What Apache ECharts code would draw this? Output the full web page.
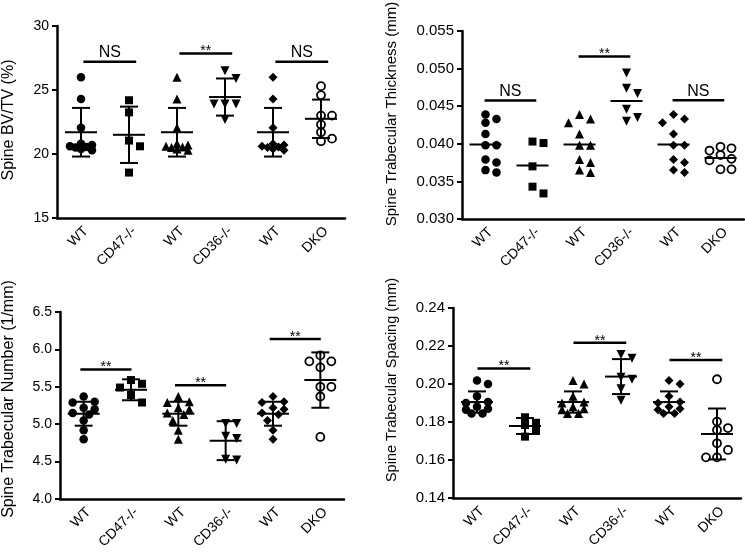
<!DOCTYPE html>
<html><head><meta charset="utf-8">
<script src="https://cdn.jsdelivr.net/npm/echarts@6/dist/echarts.min.js"></script>
<style>html,body{margin:0;padding:0;background:#fff}#c{width:745px;height:552px}</style>
</head><body><div id="c"></div>
<script>
// ---------- DATA ----------
const categories = ['WT', 'CD47-/-', 'WT', 'CD36-/-', 'WT', 'DKO'];

// Spine BV/TV (%)
const bvWT   = [26.0, 24.3, 22.05, 20.8, 20.7, 20.6, 20.55, 20.5, 20.4, 20.3];
const bvCD47 = [24.2, 23.25, 21.05, 20.6, 18.55];
const bvCD36 = [26.5, 25.9, 23.9, 23.9, 23.9, 22.7];
const bvDKO  = [25.3, 24.6, 23.0, 23.0, 22.3, 21.7, 21.2, 21.0];
const bvMean = [21.7, 21.5, 21.7, 24.45, 21.7, 22.75];
const bvSD   = [1.9, 2.2, 1.9, 1.45, 1.9, 1.5];
const bvTicks = ['15', '20', '25', '30'];
const bvSig  = [[0, 1, 27.2, 'NS'], [2, 3, 27.85, '**'], [4, 5, 27.2, 'NS']];

// Spine Trabecular Thickness (mm)
const thWT   = [0.0439, 0.0433, 0.0428, 0.0413, 0.0398, 0.0398, 0.0379, 0.0375, 0.0365, 0.0362];
const thCD47 = [0.0403, 0.0401, 0.0370, 0.0343, 0.0334];
const thCD36 = [0.0494, 0.0474, 0.0467, 0.0446, 0.0435, 0.0430];
const thDKO  = [0.0396, 0.0394, 0.0391, 0.0385, 0.0380, 0.0378, 0.0366, 0.0366];
const thMean = [0.0399, 0.0371, 0.0399, 0.0457, 0.0399, 0.0381];
const thTicks = ['0.030', '0.035', '0.040', '0.045', '0.050', '0.055'];
const thSig  = [[0, 1, 0.04575, 'NS'], [2, 3, 0.0516, '**'], [4, 5, 0.0458, 'NS']];

// Spine Trabecular Number (1/mm)
const tnWT   = [5.37, 5.30, 5.29, 5.22, 5.20, 5.15, 5.13, 5.05, 4.92, 4.80];
const tnCD47 = [5.59, 5.54, 5.49, 5.39, 5.29];
const tnCD36 = [5.01, 5.01, 4.84, 4.81, 4.53, 4.52];
const tnDKO  = [5.92, 5.84, 5.84, 5.76, 5.50, 5.50, 5.37, 4.83];
const tnMean = [5.14, 5.46, 5.14, 4.78, 5.14, 5.59];
const tnSD   = [0.16, 0.14, 0.16, 0.26, 0.16, 0.37];
const tnTicks = ['4.0', '4.5', '5.0', '5.5', '6.0', '6.5'];
const tnSig  = [[0, 1, 5.73, '**'], [2, 3, 5.52, '**'], [4, 5, 6.14, '**']];

// Spine Trabecular Spacing (mm)
const tsWT   = [0.2019, 0.2000, 0.1935, 0.1905, 0.1900, 0.1880, 0.1870, 0.1865, 0.1845, 0.1845];
const tsCD47 = [0.1825, 0.1796, 0.1784, 0.1753, 0.1723];
const tsCD36 = [0.2155, 0.2135, 0.2035, 0.2025, 0.1975, 0.1915];
const tsDKO  = [0.2025, 0.1802, 0.1768, 0.1758, 0.1688, 0.1653, 0.1614, 0.1614];
const tsMean = [0.1905, 0.1779, 0.1905, 0.2039, 0.1905, 0.1737];
const tsSD   = [0.0056, 0.0042, 0.0056, 0.0092, 0.0056, 0.0134];
const tsTicks = ['0.14', '0.16', '0.18', '0.20', '0.22', '0.24'];
const tsSig  = [[0, 1, 0.2081, '**'], [2, 3, 0.2217, '**'], [4, 5, 0.2126, '**']];

// ---------- LAYOUT / STYLE ----------
const FONT = '"Liberation Sans", Arial, sans-serif';
const panels = [
  { groups: [bvWT, bvCD47, bvWT, bvCD36, bvWT, bvDKO], means: bvMean, sds: bvSD, ticks: bvTicks, sig: bvSig,
    title: 'Spine BV/TV (%)', grid: { left: 57, top: 26, width: 288, height: 192 },
    sigL: 0.05, sigR: 0.15, nameX: 9, nameY: 120, nameSize: 16, tickSize: 14 },
  { groups: [thWT, thCD47, thWT, thCD36, thWT, thDKO], means: thMean, sds: null, ticks: thTicks, sig: thSig,
    title: 'Spine Trabecular Thickness (mm)', grid: { left: 462, top: 31, width: 282, height: 188 },
    sigL: -0.02, sigR: 0.08, nameX: 392, nameY: 114, nameSize: 15, tickSize: 15 },
  { groups: [tnWT, tnCD47, tnWT, tnCD36, tnWT, tnDKO], means: tnMean, sds: tnSD, ticks: tnTicks, sig: tnSig,
    title: 'Spine Trabecular Number (1/mm)', grid: { left: 60, top: 312, width: 284, height: 187 },
    sigL: -0.07, sigR: 0.01, nameX: 9, nameY: 399, nameSize: 16, tickSize: 14 },
  { groups: [tsWT, tsCD47, tsWT, tsCD36, tsWT, tsDKO], means: tsMean, sds: tsSD, ticks: tsTicks, sig: tsSig,
    title: 'Spine Trabecular Spacing (mm)', grid: { left: 453, top: 308, width: 288, height: 190 },
    sigL: 0.01, sigR: 0.11, nameX: 392, nameY: 380, nameSize: 14.5, tickSize: 15 }
];
const symbols = [
  { symbol: 'circle', size: 8.5, rotate: 0, fill: '#000' },
  { symbol: 'rect', size: 8, rotate: 0, fill: '#000' },
  { symbol: 'triangle', size: 9, rotate: 0, fill: '#000' },
  { symbol: 'triangle', size: 9, rotate: 180, fill: '#000' },
  { symbol: 'diamond', size: 9, rotate: 0, fill: '#000' },
  { symbol: 'circle', size: 8, rotate: 0, fill: 'rgba(0,0,0,0)', border: 1.8 }
];

// simple scatter-column layout: shift overlapping points sideways within a narrow column (pixel space)
function swarm(vals, p, catIdx, size) {
  const ymin = parseFloat(p.ticks[0]), ymax = parseFloat(p.ticks[p.ticks.length - 1]);
  const ppu = p.grid.height / (ymax - ymin);
  const band = p.grid.width / categories.length;
  const col = 11;
  const cands = [0, col, -col, col / 2, -col / 2];
  const placed = [];
  const order = vals.map((v, i) => i).sort((a, b) => vals[b] - vals[a]);
  const res = new Array(vals.length);
  for (const i of order) {
    const py = (vals[i] - ymin) * ppu;
    let best = 0, bestD = -1;
    for (const c of cands) {
      const d = placed.length ? Math.min(...placed.map(q => Math.hypot(q.x - c, q.y - py))) : Infinity;
      if (d >= size * 0.95) { best = c; bestD = d; break; }
      if (d > bestD) { bestD = d; best = c; }
    }
    placed.push({ x: best, y: py });
    res[i] = [catIdx + best / band, vals[i]];
  }
  return res;
}

const grids = [], xAxes = [], yAxes = [], series = [], graphics = [];
panels.forEach((p, gi) => {
  const ymin = parseFloat(p.ticks[0]), ymax = parseFloat(p.ticks[p.ticks.length - 1]);
  const intv = (ymax - ymin) / (p.ticks.length - 1);
  grids.push(Object.assign({ containLabel: false }, p.grid));
  xAxes.push({
    gridIndex: gi, type: 'category', data: categories, boundaryGap: true, position: 'bottom',
    axisLine: { onZero: false, lineStyle: { color: '#000', width: 2.5 } },
    axisTick: { alignWithLabel: true, length: 6, lineStyle: { color: '#000', width: 2 } },
    axisLabel: { interval: 0, rotate: 45, margin: 6, verticalAlign: 'top', fontSize: 14, color: '#000', fontFamily: FONT },
    splitLine: { show: false }
  });
  xAxes.push({ gridIndex: gi, type: 'value', min: -0.5, max: 5.5, show: false });
  yAxes.push({
    gridIndex: gi, type: 'value', min: ymin, max: ymax, interval: intv,
    axisLine: { show: true, onZero: false, lineStyle: { color: '#000', width: 2.5 } },
    axisTick: { show: true, length: 5, lineStyle: { color: '#000', width: 2 } },
    axisLabel: { margin: 8, fontSize: p.tickSize, color: '#000', fontFamily: FONT,
      formatter: v => { let best = p.ticks[0]; let d = Infinity; p.ticks.forEach(t => { const dd = Math.abs(parseFloat(t) - v); if (dd < d) { d = dd; best = t; } }); return best; } },
    splitLine: { show: false }
  });
  p.groups.forEach((vals, ci) => {
    const s = symbols[ci];
    series.push({
      type: 'scatter', xAxisIndex: 2 * gi + 1, yAxisIndex: gi, silent: true, z: 2,
      symbol: s.symbol, symbolSize: s.size, symbolRotate: s.rotate,
      itemStyle: { color: s.fill, borderColor: '#000', borderWidth: s.border || 0, opacity: 1 },
      data: swarm(vals, p, ci, s.size)
    });
  });
  series.push({
    type: 'custom', xAxisIndex: 2 * gi + 1, yAxisIndex: gi, silent: true, z: 5,
    data: p.means.map((m, i) => [i, m, p.sds ? p.sds[i] : 0]),
    renderItem: (params, api) => {
      const x = api.value(0), m = api.value(1), sd = api.value(2);
      const c = api.coord([x, m]);
      const st = { stroke: '#000', lineWidth: 2 };
      const ch = [{ type: 'line', shape: { x1: c[0] - 16, y1: c[1], x2: c[0] + 16, y2: c[1] }, style: st }];
      if (sd > 0) {
        const t = api.coord([x, m + sd]), b = api.coord([x, m - sd]);
        ch.push({ type: 'line', shape: { x1: c[0], y1: t[1], x2: c[0], y2: b[1] }, style: st });
        ch.push({ type: 'line', shape: { x1: c[0] - 9, y1: t[1], x2: c[0] + 9, y2: t[1] }, style: st });
        ch.push({ type: 'line', shape: { x1: c[0] - 9, y1: b[1], x2: c[0] + 9, y2: b[1] }, style: st });
      }
      return { type: 'group', children: ch };
    }
  });
  series.push({
    type: 'custom', xAxisIndex: 2 * gi + 1, yAxisIndex: gi, silent: true, z: 5,
    data: p.sig.map(s => [s[0] + p.sigL, s[1] + p.sigR, s[2]]),
    encode: { x: [0, 1], y: 2 },
    renderItem: (params, api) => {
      const a = api.coord([api.value(0), api.value(2)]);
      const b = api.coord([api.value(1), api.value(2)]);
      const lab = p.sig[params.dataIndex][3];
      const isNS = lab === 'NS';
      return { type: 'group', children: [
        { type: 'line', shape: { x1: a[0], y1: a[1], x2: b[0], y2: b[1] }, style: { stroke: '#000', lineWidth: 2.5 } },
        { type: 'text', x: (a[0] + b[0]) / 2, y: a[1] + (isNS ? -1 : 5),
          style: { text: lab, fill: '#000', font: (isNS ? '16px ' : '14px ') + FONT,
            align: 'center', verticalAlign: 'bottom', textAlign: 'center', textVerticalAlign: 'bottom' } }
      ] };
    }
  });
  graphics.push({
    type: 'text', x: p.nameX, y: p.nameY, rotation: Math.PI / 2, silent: true,
    style: { text: p.title, fill: '#000', font: p.nameSize + 'px ' + FONT, align: 'center', verticalAlign: 'middle',
      textAlign: 'center', textVerticalAlign: 'middle' }
  });
});

const chart = echarts.init(document.getElementById('c'), null, { renderer: 'canvas' });
chart.setOption({
  animation: false, backgroundColor: '#fff',
  grid: grids, xAxis: xAxes, yAxis: yAxes, series: series, graphic: graphics
});
</script>
</body></html>
